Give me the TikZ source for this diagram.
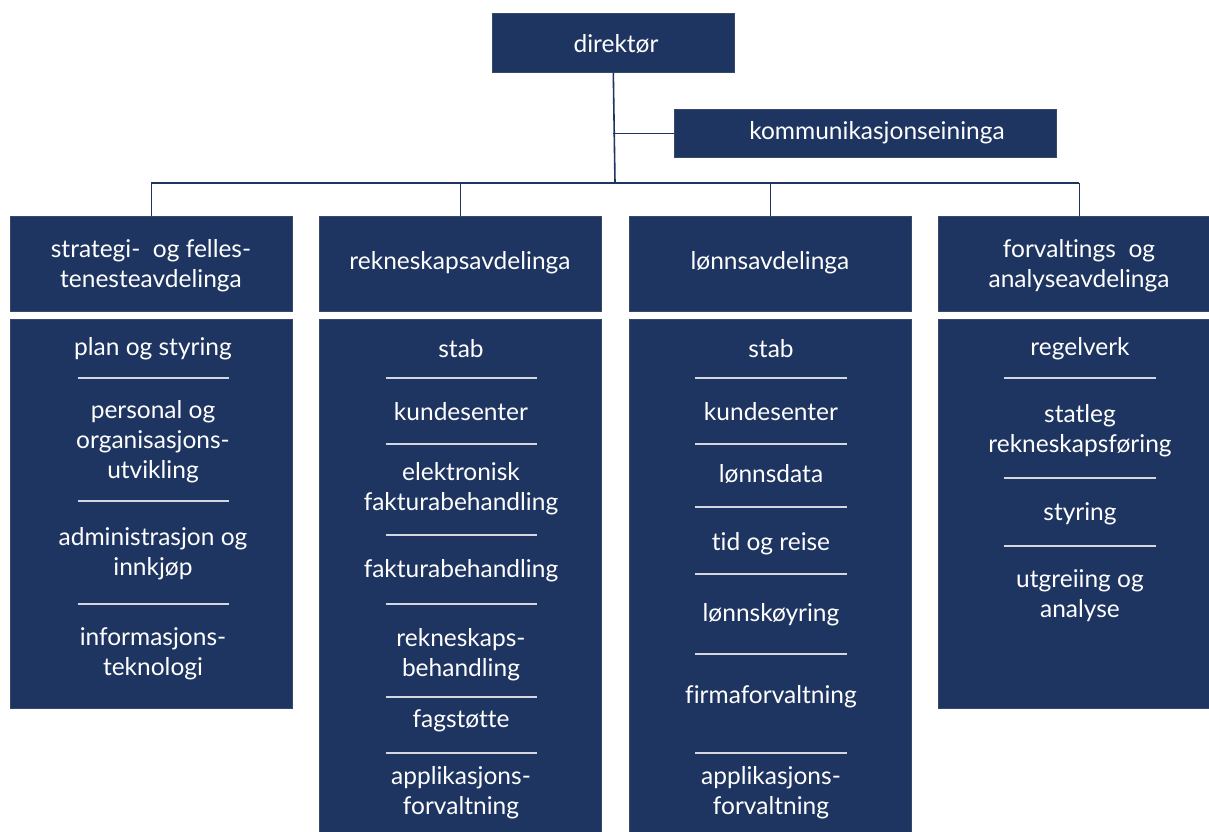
\documentclass[tikz,border=0pt]{standalone}
\usepackage{fontspec}
\setmainfont[Ligatures=NoCommon]{Lato}
\definecolor{navy}{HTML}{1F3561}
\definecolor{sepc}{HTML}{D4D7DE}
\tikzset{
  box/.style={fill=navy, draw=navy!75!gray, line width=0.6pt, inner sep=0pt, anchor=north west},
  lbl/.style={text=white, font=\fontsize{24.5}{30}\selectfont, align=center, inner sep=0pt},
  conn/.style={draw=navy, line width=1.6pt},
  sepline/.style={draw=sepc, line width=2pt}
}
\begin{document}
\begin{tikzpicture}[x=1pt,y=-1pt]
\useasboundingbox (0,0) rectangle (1209,831);
\clip (0,0) rectangle (1209,831);
\fill[white] (0,0) rectangle (1209,831);
% top level
\node[box, minimum width=242pt, minimum height=59pt] (dir) at (492,13) {};
\node[lbl] (dirt) at (616,44) {direktør};
\node[box, minimum width=382pt, minimum height=48pt] (kom) at (674,109) {};
\node[lbl] (komt) at (877,133) {kommunikasjonseininga};
% departments
\node[box, minimum width=282pt, minimum height=95pt] (d1) at (10,216) {};
\node[box, minimum width=282pt, minimum height=95pt] (d2) at (319,216) {};
\node[box, minimum width=282pt, minimum height=95pt] (d3) at (629,216) {};
\node[box, minimum width=282pt, minimum height=95pt] (d4) at (938,216) {};
\node[lbl] (d1t) at (151,266) {strategi-~ og felles-\\tenesteavdelinga};
\node[lbl] (d2t) at (460,263) {rekneskapsavdelinga};
\node[lbl] (d3t) at (770,263) {lønnsavdelinga};
\node[lbl] (d4t) at (1079,266) {forvaltings~ og\\analyseavdelinga};
% connectors
\coordinate (bus) at (615,183);
\draw[conn] (dir.south) -- (bus);
\draw[conn] (dir.south |- kom.west) -- (kom.west);
\draw[conn] (d1.north |- bus) -- (d4.north |- bus);
\draw[conn] (d1.north |- bus) -- (d1.north);
\draw[conn] (d2.north |- bus) -- (d2.north);
\draw[conn] (d3.north |- bus) -- (d3.north);
\draw[conn] (d4.north |- bus) -- (d4.north);
% sub boxes
\node[box, minimum width=282pt, minimum height=389pt] (s1) at (10,319) {};
\node[box, minimum width=282pt, minimum height=530pt] (s2) at (319,319) {};
\node[box, minimum width=282pt, minimum height=530pt] (s3) at (629,319) {};
\node[box, minimum width=282pt, minimum height=389pt] (s4) at (938,319) {};
% column 1
\node[lbl] (a1) at (153,349) {plan og styring};
\draw[sepline] (78,378) -- (229,378);
\node[lbl] (a2) at (153,442) {personal og\\organisasjons-\\utvikling};
\draw[sepline] (78,501) -- (229,501);
\node[lbl] (a3) at (153,554) {administrasjon og\\innkjøp};
\draw[sepline] (78,604) -- (229,604);
\node[lbl] (a4) at (153,654) {informasjons-\\teknologi};
% column 2
\node[lbl] (b1) at (461,349) {stab};
\draw[sepline] (386,378) -- (537,378);
\node[lbl] (b2) at (461,412) {kundesenter};
\draw[sepline] (386,444) -- (537,444);
\node[lbl] (b3) at (461,489) {elektronisk\\fakturabehandling};
\draw[sepline] (386,535) -- (537,535);
\node[lbl] (b4) at (461,571) {fakturabehandling};
\draw[sepline] (386,604) -- (537,604);
\node[lbl] (b5) at (461,655) {rekneskaps-\\behandling};
\draw[sepline] (386,697) -- (537,697);
\node[lbl] (b6) at (461,721) {fagstøtte};
\draw[sepline] (386,753) -- (537,753);
\node[lbl] (b7) at (461,793) {applikasjons-\\forvaltning};
% column 3
\node[lbl] (c1) at (771,349) {stab};
\draw[sepline] (695,378) -- (847,378);
\node[lbl] (c2) at (771,412) {kundesenter};
\draw[sepline] (695,444) -- (847,444);
\node[lbl] (c3) at (771,474) {lønnsdata};
\draw[sepline] (695,507) -- (847,507);
\node[lbl] (c4) at (771,544) {tid og reise};
\draw[sepline] (695,574) -- (847,574);
\node[lbl] (c5) at (771,615) {lønnskøyring};
\draw[sepline] (695,654) -- (847,654);
\node[lbl] (c6) at (771,697) {firmaforvaltning};
\draw[sepline] (695,753) -- (847,753);
\node[lbl] (c7) at (771,793) {applikasjons-\\forvaltning};
% column 4
\node[lbl] (e1) at (1080,349) {regelverk};
\draw[sepline] (1004,378) -- (1156,378);
\node[lbl] (e2) at (1080,431) {statleg\\rekneskapsføring};
\draw[sepline] (1004,478) -- (1156,478);
\node[lbl] (e3) at (1080,514) {styring};
\draw[sepline] (1004,546) -- (1156,546);
\node[lbl] (e4) at (1080,596) {utgreiing og\\analyse};
\end{tikzpicture}
\end{document}
